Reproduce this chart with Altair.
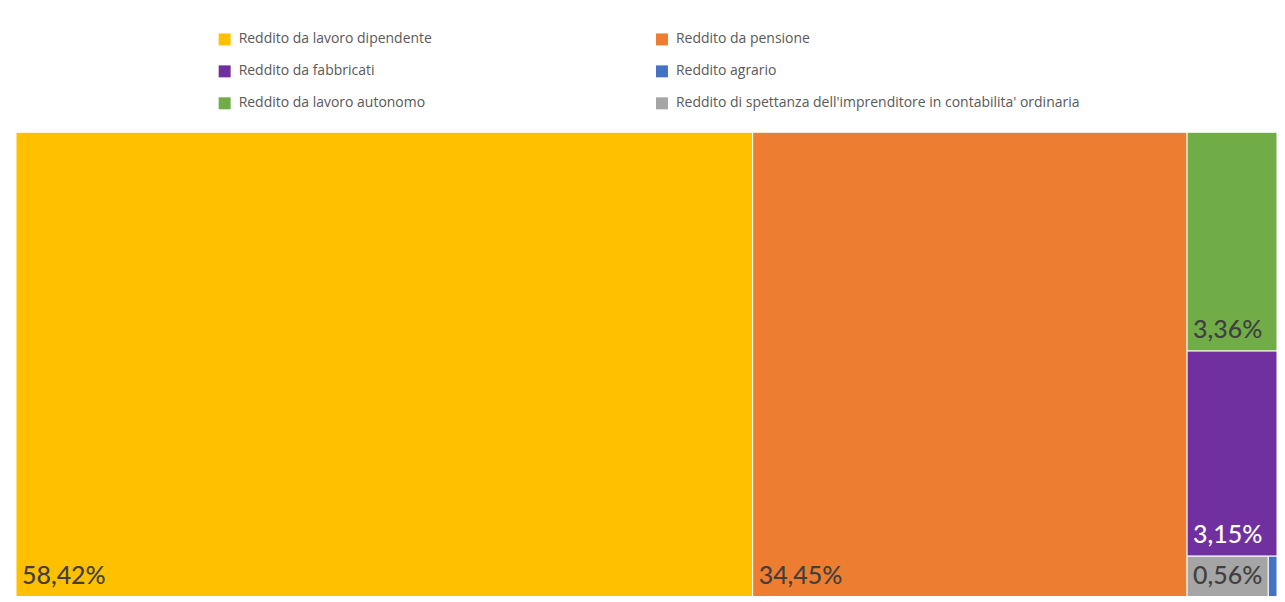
import altair as alt
import pandas as pd

# ---- data ----
categories = [
    "Reddito da lavoro dipendente",
    "Reddito da pensione",
    "Reddito da lavoro autonomo",
    "Reddito da fabbricati",
    "Reddito di spettanza dell'imprenditore in contabilita' ordinaria",
    "Reddito agrario",
]
values = [58.42, 34.45, 3.36, 3.15, 0.56, 0.06]
colors = ["#FFC000", "#ED7D31", "#70AD47", "#7030A0", "#A5A5A5", "#4472C4"]
label_colors = ["#404040", "#404040", "#404040", "#FFFFFF", "#404040", "#404040"]
# legend fills column by column
legend_order = [
    "Reddito da lavoro dipendente",
    "Reddito da fabbricati",
    "Reddito da lavoro autonomo",
    "Reddito da pensione",
    "Reddito agrario",
    "Reddito di spettanza dell'imprenditore in contabilita' ordinaria",
]

W, H = 1263, 465


def squarify(vals, x, y, w, h):
    total = sum(vals)
    areas = [v / total * w * h for v in vals]
    rects = []
    while areas:
        short = min(w, h)

        def worst(r):
            s = sum(r)
            return max(max(short * short * a / (s * s), s * s / (short * short * a)) for a in r)

        row = [areas[0]]
        i = 1
        while i < len(areas) and worst(row + [areas[i]]) <= worst(row):
            row.append(areas[i])
            i += 1
        s = sum(row)
        if w >= h:
            rw = s / h
            yy = y
            for a in row:
                rh = a / rw
                rects.append((x, yy, x + rw, yy + rh))
                yy += rh
            x += rw
            w -= rw
        else:
            rh = s / w
            xx = x
            for a in row:
                cw = a / rh
                rects.append((xx, y, xx + cw, y + rh))
                xx += cw
            y += rh
            h -= rh
        areas = areas[i:]
    return rects


rects = squarify(values, 0, 0, W, H)
df = pd.DataFrame({
    "cat": categories,
    "val": values,
    "x0": [r[0] for r in rects],
    "y0": [r[1] for r in rects],
    "x1": [r[2] for r in rects],
    "y1": [r[3] for r in rects],
    "lc": label_colors,
    "label": [f"{v:.2f}".replace(".", ",") + "%" for v in values],
})
df["show"] = (df["x1"] - df["x0"]) > 40

xs = alt.Scale(domain=[0, W], nice=False, zero=False)
ys = alt.Scale(domain=[0, H], nice=False, zero=False, reverse=True)

tiles = alt.Chart(df).mark_rect(stroke="white", strokeWidth=1).encode(
    x=alt.X("x0:Q", scale=xs, axis=None),
    x2="x1:Q",
    y=alt.Y("y0:Q", scale=ys, axis=None),
    y2="y1:Q",
    color=alt.Color(
        "cat:N",
        scale=alt.Scale(domain=legend_order,
                        range=[colors[categories.index(c)] for c in legend_order]),
        legend=alt.Legend(
            title=None, orient="none", legendX=202, legendY=-100, columns=2,
            columnPadding=223, rowPadding=18, symbolType="square", symbolSize=144,
            symbolStrokeWidth=0, labelFontSize=14, labelColor="#595959",
            labelFont="Open Sans", labelOffset=7, labelLimit=600,
        ),
    ),
)

labels = alt.Chart(df).transform_filter("datum.show").mark_text(
    align="left", baseline="alphabetic", dx=6, dy=-13, fontSize=25, font="Lato",
    fontWeight=500,
).encode(
    x=alt.X("x0:Q", scale=xs, axis=None),
    y=alt.Y("y1:Q", scale=ys, axis=None),
    text="label:N",
    color=alt.Color("lc:N", scale=None, legend=None),
)

border = alt.Chart(df).mark_rule(color="#E6E6E6", strokeWidth=1.5).encode(
    x=alt.value(-10), y=alt.value(-124), y2=alt.value(H + 5)
)

chart = alt.layer(border, tiles, labels).resolve_scale(color="independent").properties(
    width=W, height=H,
    padding={"left": 8, "top": 124, "right": 0, "bottom": 0},
    autosize=alt.AutoSizeParams(type="none"),
).configure_view(stroke=None)

chart.save("out.html", embed_options={"renderer": "svg", "actions": False})
